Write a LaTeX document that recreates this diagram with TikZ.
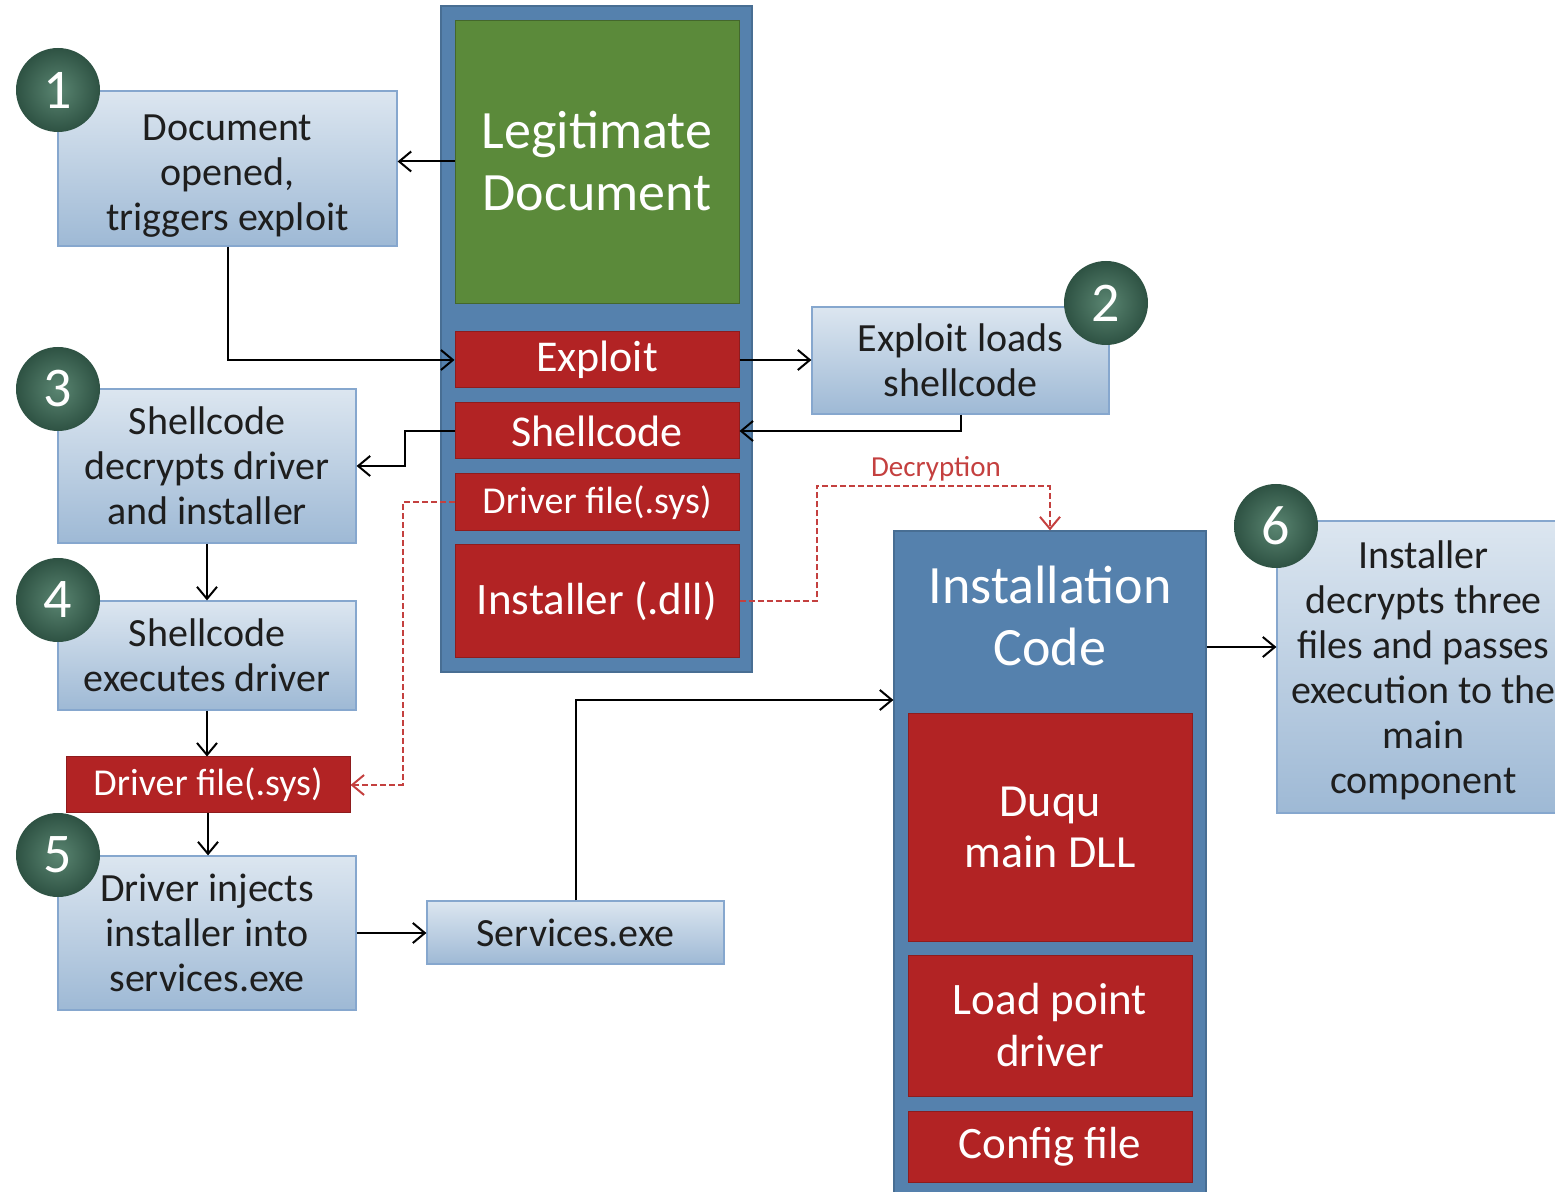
\documentclass[tikz,border=0pt]{standalone}
\usepackage{fontspec}
\setmainfont{Carlito}
\usetikzlibrary{arrows.meta,calc}

\definecolor{colblue}{HTML}{5581AD}
\definecolor{docgreen}{HTML}{5B8A3A}
\definecolor{partred}{HTML}{B22324}
\definecolor{boxtop}{HTML}{DCE6F0}
\definecolor{boxbot}{HTML}{9EB9D5}
\definecolor{boxline}{HTML}{86A7CE}
\definecolor{stepin}{HTML}{5A8571}
\definecolor{stepout}{HTML}{2E5243}
\definecolor{dashred}{HTML}{C4403F}
\definecolor{txt}{HTML}{1E1E1E}

\begin{document}
\begin{tikzpicture}[x=0.5pt, y=-0.5pt, >={Straight Barb[length=6pt,width=10pt]},
    flow/.style={->, line width=1pt},
    decr/.style={->, draw=dashred, line width=1pt, dash pattern=on 3pt off 1.5pt},
    stepbox/.style={draw=boxline, line width=0.6pt, top color=boxtop, bottom color=boxbot,
        text=txt, inner sep=0pt, align=center, font=\fontsize{20}{22.5}\selectfont},
    column/.style={draw=colblue!85!black, line width=0.6pt, fill=colblue, inner sep=0pt},
    part/.style={draw=partred!80!black, line width=0.5pt, fill=partred, text=white,
        inner sep=0pt, align=center, minimum width=142pt},
    stepnum/.style={circle, minimum size=42pt, inner sep=0pt, inner color=stepin,
        outer color=stepout, text=white, font=\fontsize{28}{30}\selectfont}]
    \useasboundingbox (0,0) rectangle (1555,1192);
    \clip (0,0) rectangle (1555,1192);

    % Document column
    \node[column, minimum width=155.5pt, minimum height=333pt] (doccol) at (596.5,339) {};
    \node[draw=docgreen!75!black, fill=docgreen, text=white, minimum width=142pt, minimum height=141.5pt,
        inner sep=0pt, align=center, font=\fontsize{27}{31}\selectfont] (legit) at (597,161.5) {Legitimate\\Document};
    \node[part, minimum height=28pt, font=\fontsize{22}{26}\selectfont] (exploit) at (597,360) {Exploit};
    \node[part, minimum height=28pt, font=\fontsize{22}{26}\selectfont] (shell) at (597,431) {Shellcode};
    \node[part, minimum height=28.5pt, font=\fontsize{19}{22}\selectfont] (drvA) at (597,502.5) {Driver file(.sys)};
    \node[part, minimum height=56.5pt, font=\fontsize{22.5}{26}\selectfont] (instdll) at (597,601.5) {Installer (.dll)};

    % Installation column
    \node[column, minimum width=156pt, minimum height=332.5pt] (inst) at (1050,863.5) {};
    \node[text=white, align=center, font=\fontsize{27}{31}\selectfont] (instlbl) at (1050,616) {Installation\\Code};
    \node[part, minimum height=113.5pt, font=\fontsize{23}{25.5}\selectfont] (duqu) at (1050,827.5) {Duqu\\main DLL};
    \node[part, minimum height=70.5pt, font=\fontsize{22.5}{26}\selectfont] (loadpt) at (1050,1025.5) {Load point\\driver};
    \node[part, minimum height=35.5pt, font=\fontsize{22.5}{26}\selectfont] (config) at (1050,1146.5) {Config file};

    % Steps
    \node[stepbox, minimum width=169.5pt, minimum height=77.5pt] (s1) at (227.5,168.5) {\rule{0pt}{20pt}Document\\opened,\\triggers exploit};
    \node[stepbox, minimum width=148.5pt, minimum height=53.5pt] (s2) at (960.5,360.5) {Exploit loads\\shellcode};
    \node[stepbox, minimum width=149pt, minimum height=77pt] (s3) at (207,466) {Shellcode\\decrypts driver\\and installer};
    \node[stepbox, minimum width=149pt, minimum height=54.5pt] (s4) at (207,655.5) {Shellcode\\executes driver};
    \node[part, minimum height=28pt, font=\fontsize{19}{22}\selectfont] (drvB) at (208,785) {Driver file(.sys)};
    \node[stepbox, minimum width=149pt, minimum height=77pt] (s5) at (207,933) {Driver injects\\installer into\\services.exe};
    \node[stepbox, minimum width=148.5pt, minimum height=31.5pt] (svc) at (575.5,932.5) {Services.exe};
    \node[stepbox, minimum width=146.5pt, minimum height=146pt] (s6) at (1423.5,667) {\rule{0pt}{17pt}Installer\\decrypts three\\files and passes\\execution to the\\main\\component};

    % Step numbers
    \foreach \n/\x/\y in {1/58/90, 2/1106/303, 3/58/389, 4/58/600, 5/58/855, 6/1276/526}
        \node[stepnum] (n\n) at (\x,\y) {\n};

    % Flow
    \draw[flow] (legit.west) -- (legit.west -| s1.east);
    \draw[flow] (s1.south) |- (exploit.west);
    \draw[flow] (exploit.east) -- (exploit.east -| s2.west);
    \draw[flow] (s2.south) |- (shell.east);
    \draw[flow] (shell.west) -- ++(-50,0) |- (s3.east);
    \draw[flow] (s3.south) -- (s4.north);
    \draw[flow] (s4.south) -- (s4.south |- drvB.north);
    \draw[flow] (drvB.south) -- (drvB.south |- s5.north);
    \draw[flow] (s5.east) -- (s5.east -| svc.west);
    \draw[flow] (svc.north) |- ([yshift=81.75pt]inst.west);
    \draw[flow] ([yshift=108.25pt]inst.east) coordinate (instout) -- (instout -| s6.west);

    % Decryption
    \draw[decr] (drvA.west) -- ++(-52,0) |- (drvB.east);
    \draw[decr] (instdll.east) -- ++(77,0) |- ([yshift=22pt]inst.north) -- (inst.north);
    \node[text=dashred, font=\fontsize{14.5}{17}\selectfont] (declbl) at (936,469) {Decryption};
\end{tikzpicture}
\end{document}
